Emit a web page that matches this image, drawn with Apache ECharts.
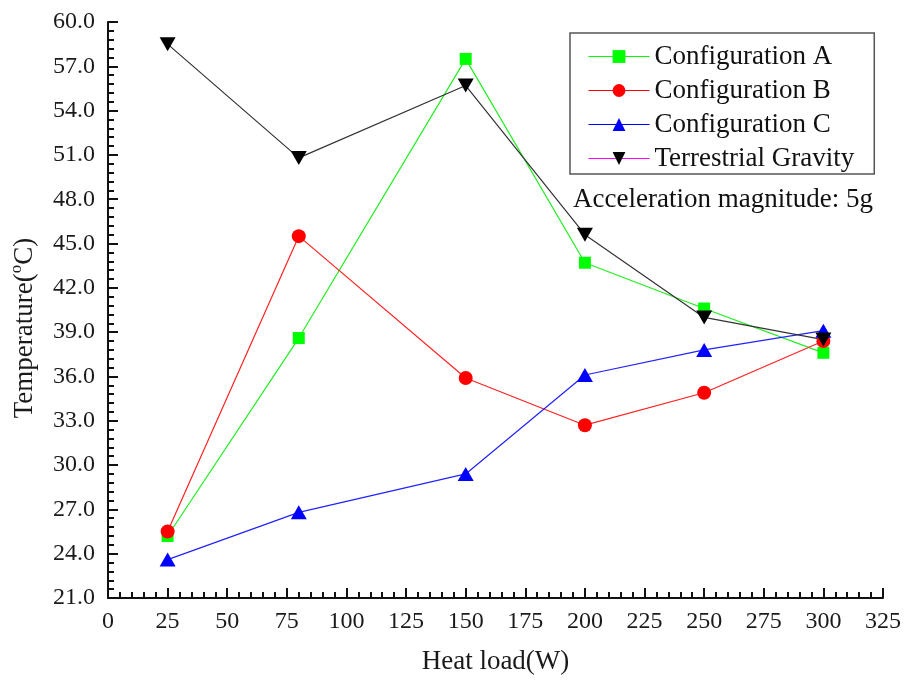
<!DOCTYPE html>
<html>
<head>
<meta charset="utf-8">
<script src="https://cdn.jsdelivr.net/npm/echarts@6/dist/echarts.min.js"></script>
<style>
  html, body { margin: 0; padding: 0; background: #fff; }
  #chart { width: 904px; height: 685px; }
</style>
</head>
<body>
<div id="chart"></div>
<script>
// Heat load (W) at which each configuration was measured
const heatLoad = [25, 80, 150, 200, 250, 300];

// Temperatures (°C) under 5g acceleration
const configA = [25.2, 38.6, 57.5, 43.7, 40.6, 37.6];
const configB = [25.5, 45.5, 35.9, 32.7, 34.9, 38.4];
const configC = [23.6, 26.8, 29.4, 36.1, 37.8, 39.1];
const terrestrial = [58.5, 50.8, 55.7, 45.6, 40.0, 38.5];

const seriesNames = ['Configuration A', 'Configuration B', 'Configuration C', 'Terrestrial Gravity'];

const FONT = '"Liberation Serif", "DejaVu Serif", serif';
const downTriangle = 'path://M0,0 L10,0 L5,9 Z';

function pairs(values) {
  return heatLoad.map((x, i) => [x, values[i]]);
}

const chart = echarts.init(document.getElementById('chart'), null, { renderer: 'canvas' });

const axisCommon = {
  axisLine: { show: true, onZero: false, lineStyle: { color: '#111', width: 2 } },
  axisTick: { show: true, inside: true, length: 10, lineStyle: { color: '#111', width: 2 } },
  minorTick: { show: true, splitNumber: 5, length: 6, lineStyle: { color: '#111', width: 2 } },
  splitLine: { show: false },
  axisLabel: { color: '#1a1a1a', fontFamily: FONT, fontSize: 24 }
};

chart.setOption({
  animation: false,
  backgroundColor: '#fff',
  grid: { left: 108, right: 20, top: 22, bottom: 87, containLabel: false },
  xAxis: Object.assign({}, axisCommon, {
    type: 'value',
    min: 0,
    max: 325,
    interval: 25,
    name: 'Heat load(W)',
    nameLocation: 'middle',
    nameGap: 50,
    nameTextStyle: { color: '#1a1a1a', fontFamily: FONT, fontSize: 27 },
    axisLabel: Object.assign({}, axisCommon.axisLabel, { margin: 12 })
  }),
  yAxis: Object.assign({}, axisCommon, {
    type: 'value',
    min: 21,
    max: 60,
    interval: 3,
    name: '{t|Temperature(}{s|o}{t|C)}',
    nameLocation: 'middle',
    nameGap: 70,
    nameTextStyle: {
      color: '#1a1a1a',
      fontFamily: FONT,
      fontSize: 27,
      padding: [0, 36, 0, 0],
      rich: {
        t: { fontFamily: FONT, fontSize: 27, color: '#1a1a1a', lineHeight: 30, verticalAlign: 'bottom' },
        s: { fontFamily: FONT, fontSize: 17, color: '#1a1a1a', lineHeight: 30, verticalAlign: 'top' }
      }
    },
    axisLabel: Object.assign({}, axisCommon.axisLabel, {
      margin: 13,
      formatter: v => v.toFixed(1)
    })
  }),
  legend: {
    orient: 'vertical',
    left: 570,
    top: 33,
    width: 299,
    padding: [10, 20, 2, 18],
    itemGap: 7,
    itemWidth: 61,
    itemHeight: 16,
    borderColor: '#555',
    borderWidth: 1.5,
    textStyle: { color: '#111', fontFamily: FONT, fontSize: 27, padding: [0, 0, 0, 0] },
    data: [
      { name: seriesNames[0], itemStyle: { color: '#00ff00' }, lineStyle: { color: '#00ff00', width: 1 } },
      { name: seriesNames[1], itemStyle: { color: '#ff0000' }, lineStyle: { color: '#ff0000', width: 1 } },
      { name: seriesNames[2], itemStyle: { color: '#0000ff' }, lineStyle: { color: '#0000ff', width: 1 } },
      { name: seriesNames[3], itemStyle: { color: '#000000' }, lineStyle: { color: '#ff00ff', width: 1 } }
    ]
  },
  graphic: [{
    type: 'text',
    left: 573,
    top: 186,
    style: {
      text: 'Acceleration magnitude: 5g',
      fill: '#111',
      font: '27px "Liberation Serif", "DejaVu Serif", serif'
    },
    z: 10
  }],
  series: [
    {
      name: seriesNames[0], type: 'line', data: pairs(configA),
      symbol: 'rect', symbolSize: 12,
      itemStyle: { color: '#00ff00' },
      lineStyle: { color: '#22ee22', width: 1.2 }
    },
    {
      name: seriesNames[1], type: 'line', data: pairs(configB),
      symbol: 'circle', symbolSize: 14,
      itemStyle: { color: '#ff0000' },
      lineStyle: { color: '#ff2222', width: 1.2 }
    },
    {
      name: seriesNames[2], type: 'line', data: pairs(configC),
      symbol: 'triangle', symbolSize: [16, 14],
      itemStyle: { color: '#0000ff' },
      lineStyle: { color: '#2222ff', width: 1.2 }
    },
    {
      name: seriesNames[3], type: 'line', data: pairs(terrestrial),
      symbol: downTriangle, symbolSize: [16, 14],
      itemStyle: { color: '#000000' },
      lineStyle: { color: '#333333', width: 1.2 }
    }
  ]
});
</script>
</body>
</html>
